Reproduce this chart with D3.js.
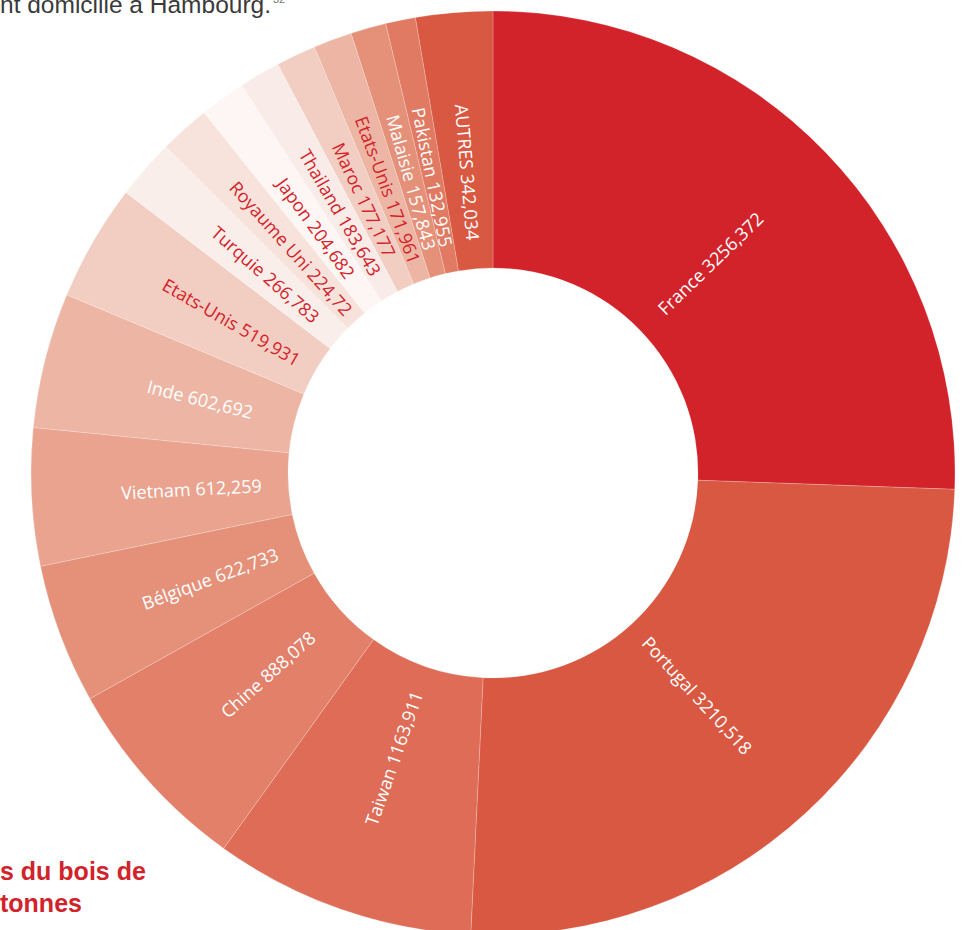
<!DOCTYPE html>
<html>
<head>
<meta charset="utf-8">
<script src="https://cdn.jsdelivr.net/npm/d3@7"></script>
<style>
  body { margin: 0; background: #fff; }
  svg { display: block; }
</style>
</head>
<body>
<svg id="chart"></svg>
<script>
// Countries in clockwise order from the top (thousand tonnes)
const countries = ["France", "Portugal", "Taiwan", "Chine", "Bélgique", "Vietnam", "Inde",
  "Etats-Unis", "Turquie", "Royaume Uni", "Japon", "Thailand", "Maroc", "Etats-Unis",
  "Malaisie", "Pakistan", "AUTRES"];
const values = [3256.372, 3210.518, 1163.911, 888.078, 622.733, 612.259, 602.692,
  519.931, 266.783, 224.72, 204.682, 183.643, 177.177, 171.961,
  157.843, 132.955, 342.034];

// Slice fills and label colours, same order as the countries
const sliceColors = ["#d2232b", "#d95842", "#de6c56", "#e28069", "#e5917a", "#e9a38f", "#edb6a4",
  "#f2cdc1", "#faeeea", "#f7e3db", "#fdf6f4", "#f9ece8", "#f2cdc1", "#edb6a4",
  "#e5917a", "#e07a62", "#d95842"];
const labelColors = ["#fff", "#fff", "#fff", "#fff", "#fff", "#fff", "#fff",
  "#d2232b", "#d2232b", "#d2232b", "#d2232b", "#d2232b", "#d2232b", "#d2232b",
  "#fff", "#fff", "#fff"];

const width = 965, height = 930;
const cx = 493, cy = 473;
const outerR = 462, innerR = 205, labelR = 302;

const data = countries.map((c, i) => ({ name: c, value: values[i], index: i }));

const svg = d3.select("#chart").attr("width", width).attr("height", height);

// Cropped caption text at the top and bottom-left
const topText = svg.append("text")
  .attr("x", 0).attr("y", 13)
  .attr("font-family", "'Liberation Sans', Arial, sans-serif")
  .attr("font-size", 24.5)
  .attr("fill", "#3a3a3a")
  .text("nt domicilié à Hambourg.");
topText.append("tspan")
  .attr("font-size", 11)
  .attr("dy", -10)
  .attr("dx", 2)
  .attr("fill", "#777")
  .text("32");

const bottom = svg.append("g")
  .attr("font-family", "'Liberation Sans', Arial, sans-serif")
  .attr("font-size", 25)
  .attr("font-weight", "bold")
  .attr("fill", "#d2232b");
bottom.append("text").attr("x", 0).attr("y", 880).text("s du bois de");
bottom.append("text").attr("x", 0).attr("y", 912).text("tonnes");

// Donut
const pie = d3.pie().value(d => d.value).sort(null);
const arc = d3.arc().innerRadius(innerR).outerRadius(outerR);
const arcs = pie(data);

const g = svg.append("g").attr("transform", `translate(${cx},${cy})`);

g.selectAll("path.slice")
  .data(arcs)
  .enter().append("path")
  .attr("class", "slice")
  .attr("d", arc)
  .attr("fill", d => sliceColors[d.data.index])
  .attr("stroke", "rgba(255,255,255,0.35)")
  .attr("stroke-width", 0.6);

// Radial labels, reading outward on the right half and inward on the left
g.selectAll("text.label")
  .data(arcs)
  .enter().append("text")
  .attr("class", "label")
  .attr("transform", d => {
    const a = (d.startAngle + d.endAngle) / 2;
    const deg = a * 180 / Math.PI;
    const x = Math.sin(a) * labelR, y = -Math.cos(a) * labelR;
    const rot = deg < 180 ? deg - 90 : deg - 270;
    return `translate(${x},${y}) rotate(${rot})`;
  })
  .attr("text-anchor", "middle")
  .attr("dominant-baseline", "central")
  .attr("font-family", "'Open Sans', sans-serif")
  .attr("font-size", 18)
  .attr("fill", d => labelColors[d.data.index])
  .text(d => `${d.data.name} ${String(d.data.value).replace(".", ",")}`);
</script>
</body>
</html>
